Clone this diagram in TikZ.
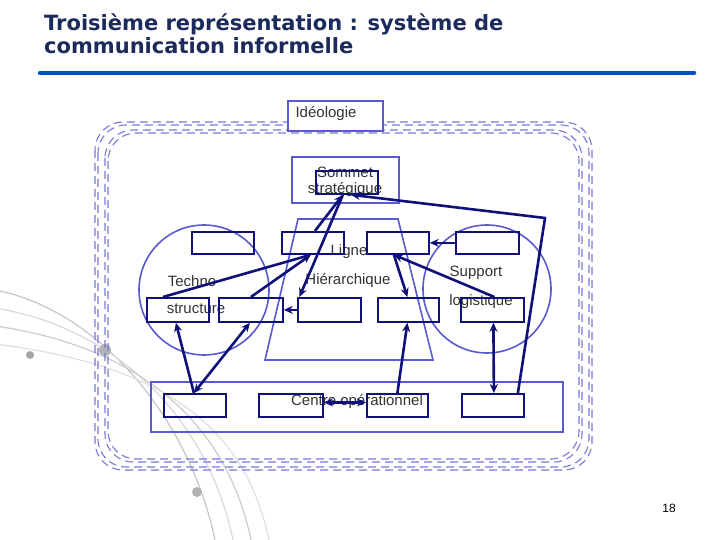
\documentclass[tikz,border=0pt]{standalone}
\usepackage{fontspec}
\setmainfont{Liberation Sans}
\newfontfamily\titlefont{DejaVu Sans}
\usetikzlibrary{arrows.meta}
\definecolor{navy}{HTML}{10107A}
\definecolor{lblue}{HTML}{5A5AD0}
\definecolor{dblue}{HTML}{7878D8}
\definecolor{ttl}{HTML}{1C2A5C}
\tikzset{
 dk/.style={draw=navy,line width=1.8pt,fill=none},
 lb/.style={draw=lblue,line width=1.6pt},
 arr/.style={navy,line width=2.6pt,-{Stealth[length=9pt,width=8pt]}},
 darr/.style={navy,line width=2.6pt,{Stealth[length=9pt,width=8pt]}-{Stealth[length=9pt,width=8pt]}},
 lab/.style={font=\fontsize{15}{17}\selectfont,text=black!80,inner sep=0pt},
 dsh/.style={draw=dblue,line width=1.1pt,dash pattern=on 8pt off 5pt,rounded corners=28pt}
}
\begin{document}
\begin{tikzpicture}[x=1pt,y=-1pt]
\useasboundingbox (0,0) rectangle (720,540);
\fill[white] (0,0) rectangle (720,540);
% decorative arcs
\foreach \d/\g in {0/22,18/15,36/20,54/12}{
 \draw[black!\g,line width=1.2pt] (-5,290+\d) .. controls (100+\d,310+\d) and (190+\d,420) .. (215+\d,540);
}
\fill[black!35] (30,355) circle (4);
\fill[black!30] (105,350) circle (6);
\fill[black!30] (197,492) circle (5);
% title
\node[anchor=north west,align=left,text=ttl,inner sep=0pt,font=\titlefont\bfseries\fontsize{21}{23}\selectfont] (title) at (44,14) {Troisième représentation : système de\\communication informelle};
\draw[line width=4.5pt,color=blue!60!cyan!80!black,line cap=round] (40,73) -- (694,73);
\node[font=\fontsize{12}{14}\selectfont,text=black] (pg) at (669,508) {18};
% dashed outer (double)
\foreach \o in {0,3}{
\draw[dsh] (95+\o,122+\o) rectangle (592-\o,470-\o);
\draw[dsh] (105+\o,130+\o) rectangle (582-\o,462-\o);}
% shapes
\node[lb,fill=white,minimum width=95pt,minimum height=30pt,inner sep=0pt,anchor=north west] (ideo) at (287,100) {};
\node[lab] (ideot) at (326,114) {Idéologie};
\draw[lb] (292,157) rectangle (399,203);
\draw[lb] (298,219) -- (398,219) -- (433,360) -- (265,360) -- cycle;
\draw[lb] (204,290) circle (65);
\draw[lb] (487,289) circle (64);
\draw[lb] (151,382) rectangle (563,432);
% labels
\node[lab] (l1) at (345,172) {Sommet};
\node[lab] (l2) at (345,190) {stratégique};
\node[lab] (l3) at (192,281) {Techno};
\node[lab] (l4) at (196,309) {structure};
\node[lab] (l5) at (349,252) {Ligne};
\node[lab] (l6) at (348,281) {Hiérarchique};
\node[lab] (l7) at (476,273) {Support};
\node[lab] (l8) at (481,302) {logistique};
\node[lab] (l9) at (357,402) {Centre opérationnel};
% dark boxes
\newcommand{\bx}[5]{\node[dk,inner sep=0pt,minimum width=#4pt-#2pt,minimum height=#5pt-#3pt,anchor=north west] (#1) at (#2,#3) {};}
\bx{S}{315}{170}{377}{193}
\bx{A}{191}{231}{253}{253}
\bx{B}{281}{231}{343}{253}
\bx{C}{366}{231}{428}{253}
\bx{D}{455}{231}{518}{253}
\bx{E}{146}{297}{208}{321}
\bx{F}{218}{297}{282}{321}
\bx{G}{297}{297}{360}{321}
\bx{H}{377}{297}{438}{321}
\bx{I}{460}{297}{523}{321}
\bx{J}{163}{393}{225}{416}
\bx{K}{258}{393}{322}{416}
\bx{L}{366}{393}{427}{416}
\bx{M}{461}{393}{523}{416}
\coordinate (rc) at (545,218);
% arrows
\draw[arr] ([xshift=2pt]B.north) -- ([xshift=-4pt]S.south);
\draw[arr] ([xshift=-4pt]S.south) -- ([xshift=-30pt]G.north);
\draw[arr] ([xshift=-15pt]E.north) -- ([xshift=-2pt]B.south);
\draw[arr] ([xshift=0pt]F.north) -- ([xshift=-2pt]B.south);
\draw[arr] (G.west) -- (F.east);
\draw[arr] (D.west) -- (C.east);
\draw[arr] ([xshift=-4pt]C.south) -- ([xshift=-1pt]H.north);
\draw[arr] ([xshift=2pt]I.north) -- ([xshift=-4pt]C.south);
\draw[arr] ([xshift=-1pt]J.north) -- ([xshift=-2pt]E.south);
\draw[darr] ([xshift=-1pt]J.north) -- ([xshift=-1pt]F.south);
\draw[arr] (L.north) -- ([xshift=-1pt]H.south);
\draw[darr] ([xshift=1pt]I.south) -- ([xshift=1pt]M.north);
\draw[darr] ([yshift=3pt]K.east) -- ([yshift=3pt]L.west);
\draw[navy,line width=2.6pt,{Stealth[length=9pt,width=8pt]}-] ([xshift=4pt]S.south) -- (rc) -- ([xshift=25pt]M.north);
\end{tikzpicture}
\end{document}
